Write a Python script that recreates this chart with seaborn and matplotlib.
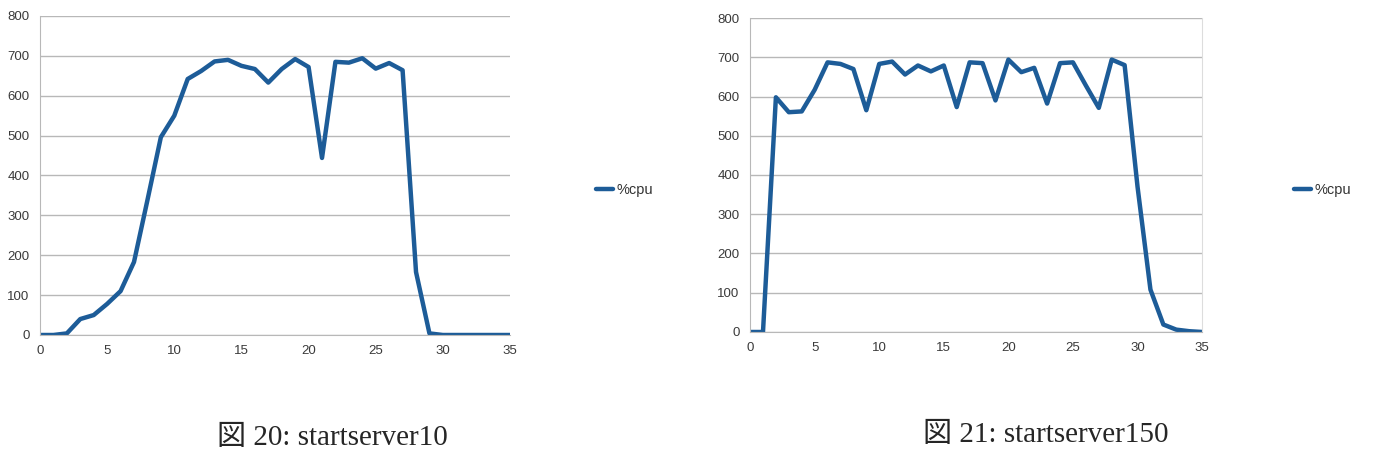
import numpy as np
import pandas as pd
import matplotlib
matplotlib.use("Agg")
import matplotlib.pyplot as plt
import seaborn as sns

# time steps (0..35) and %cpu
sec = list(range(36))
cpu_10 = [0, 0, 4, 40, 50, 78, 110, 183, 338, 496, 550, 642, 662, 686, 690, 675,
          667, 633, 667, 692, 672, 444, 685, 683, 694, 668, 682, 664, 158, 4,
          0, 0, 0, 0, 0, 0]
cpu_150 = [0, 0, 598, 560, 562, 617, 687, 683, 670, 565, 683, 689, 656, 679, 664, 679,
           573, 687, 685, 590, 694, 662, 673, 582, 685, 687, 628, 571, 694, 680,
           370, 108, 19, 6, 2, 0]
captions = ["図 20: startserver10", "図 21: startserver150"]
series_name = "%cpu"

sns.set_style("white")
plt.rcParams['font.family'] = ['Liberation Sans', 'DejaVu Sans']

fig = plt.figure(figsize=(13.74, 4.49), dpi=100)
ax1 = fig.add_axes([0.0291, 0.2539, 0.3421, 0.7105])
ax2 = fig.add_axes([0.5459, 0.2606, 0.3290, 0.6993])

line_col = "#1d5c98"
grid_col = "#b8b8b8"

for ax, vals, leg_x in [(ax1, cpu_10, 0.424), (ax2, cpu_150, 0.932)]:
    df = pd.DataFrame({"t": sec, series_name: vals})
    sns.lineplot(data=df, x="t", y=series_name, ax=ax, color=line_col,
                 linewidth=3.2, label=series_name)
    ax.set_xlim(0, 35)
    ax.set_ylim(0, 800)
    ax.set_xticks(range(0, 36, 5))
    ax.set_yticks(range(0, 801, 100))
    ax.set_xlabel("")
    ax.set_ylabel("")
    ax.grid(axis="y", color=grid_col, linewidth=1)
    ax.set_axisbelow(True)
    for s in ["top", "right"]:
        ax.spines[s].set_visible(False)
    for s in ["left", "bottom"]:
        ax.spines[s].set_color(grid_col)
    ax.tick_params(axis="both", labelsize=9.5, colors="#3a3a3a", length=4,
                   width=1, direction="out")
    ax.tick_params(axis="both", color=grid_col)
    ax.legend(loc="center left", bbox_to_anchor=(leg_x, 0.577),
              bbox_transform=fig.transFigure, frameon=False, fontsize=10.5,
              handlelength=1.2, handletextpad=0.25, labelcolor="#333333")

ax2.spines["right"].set_visible(True)
ax2.spines["right"].set_color("#dddddd")

# captions sit at the very bottom edge as in the source page
fig.text(0.242, 0.009, captions[0], ha="center", va="baseline", fontsize=21,
         family=["Liberation Serif", "Noto Sans CJK JP"])
fig.text(0.761, 0.016, captions[1], ha="center", va="baseline", fontsize=21,
         family=["Liberation Serif", "Noto Sans CJK JP"])

fig.savefig("out.png", dpi=100)
